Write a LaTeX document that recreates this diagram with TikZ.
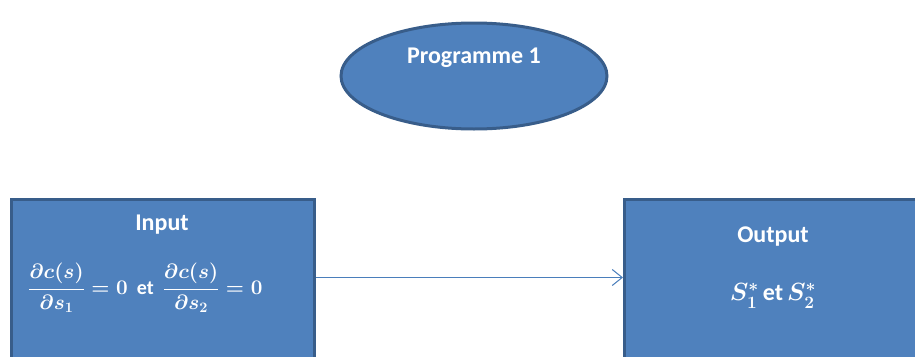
\documentclass[tikz,border=0pt]{standalone}
\usepackage{fontspec}
\setmainfont{Carlito}
\usetikzlibrary{shapes.geometric,arrows.meta}
\definecolor{boxfill}{HTML}{4F81BD}
\definecolor{boxedge}{HTML}{385D8A}
\definecolor{arrowcol}{HTML}{4A7EBB}
\newcommand{\myfrac}[1]{{\displaystyle\frac{\partial c(s)}{\partial s_{#1}}}}
\begin{document}
\begin{tikzpicture}[x=1pt,y=-1pt,
  shapebase/.style={fill=boxfill,draw=boxedge,line width=3pt},
  blob/.style={shapebase,ellipse,minimum width=266pt,minimum height=106pt,inner sep=0pt},
  panel/.style={shapebase,rectangle,anchor=north west,inner sep=0pt},
  wtext/.style={text=white,font=\fontsize{24}{28}\selectfont\bfseries,inner sep=0pt},
  mtext/.style={text=white,font=\fontsize{20}{24}\selectfont\bfseries\boldmath,inner sep=0pt},
  otext/.style={text=white,font=\fontsize{24}{28}\selectfont\bfseries\boldmath,inner sep=0pt},
  conn/.style={draw=arrowcol,line width=1pt,-{Straight Barb[length=10pt,width=16pt,line width=1pt]}}
]
\useasboundingbox (0,0) rectangle (915,356);
\node[blob] (prog) at (474,76) {};
\node[wtext] (progtext) at (474,58) {Programme 1};
\node[panel,minimum width=303pt,minimum height=162pt] (input) at (10,198) {};
\node[panel,minimum width=320pt,minimum height=162pt] (output) at (623,198) {};
\node[wtext] (intitle) at (162,225) {Input};
\node[mtext,anchor=west] (inform) at (28,288) {$\myfrac{1}=0$\ \ et\ \ $\myfrac{2}=0$};
\node[wtext] (outtitle) at (773,237) {Output};
\node[otext] (outform) at (773,296) {$S_1^{*}$\,et\,$S_2^{*}$};
\draw[conn] ([yshift=3pt]input.east) -- ([yshift=3pt]output.west);
\end{tikzpicture}
\end{document}
